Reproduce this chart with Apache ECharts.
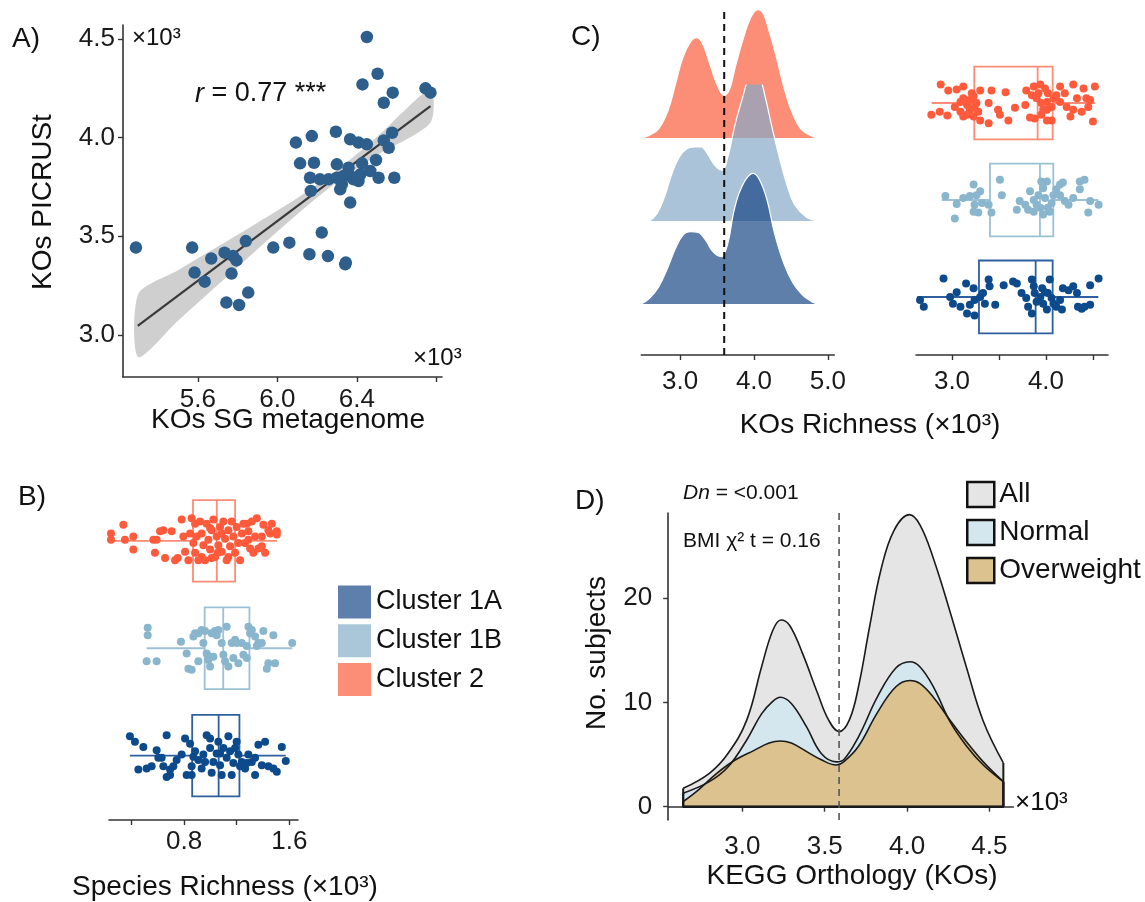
<!DOCTYPE html>
<html><head><meta charset="utf-8">
<script src="https://cdn.jsdelivr.net/npm/echarts@6/dist/echarts.min.js"></script>
<style>html,body{margin:0;padding:0;background:#fff}#chart{width:1145px;height:902px}</style>
</head><body><div id="chart"></div>
<script>
// ---------------- Panel A data ----------------
const aSG = [5.288,6.450,6.504,6.428,6.580,6.535,6.745,6.770,6.093,6.173,6.294,6.366,6.408,6.450,6.535,6.577,6.560,6.114,6.184,6.299,6.358,6.426,6.496,6.164,6.214,6.257,6.299,6.333,6.366,6.408,6.417,6.467,6.509,6.588,6.168,6.316,6.366,6.324,6.383,6.223,5.979,6.060,6.161,6.254,6.344,6.341,5.571,5.667,5.734,5.777,5.794,5.841,5.583,5.634,5.769,5.743,5.807,5.853];
const aPICRUSt = [3.443,4.510,4.324,4.270,4.228,4.177,4.250,4.228,3.975,4.008,4.030,3.992,3.975,3.966,3.986,4.025,3.949,3.870,3.873,3.865,3.848,3.870,3.887,3.797,3.789,3.789,3.797,3.806,3.806,3.780,3.814,3.831,3.797,3.797,3.730,3.738,3.671,3.764,3.789,3.519,3.443,3.468,3.409,3.400,3.367,3.358,3.443,3.387,3.417,3.400,3.378,3.476,3.316,3.270,3.311,3.164,3.152,3.215];
const aFitX = [5.297, 6.770];
const aFitY = [3.046, 4.160];
const aBandX = [5.30, 5.50, 5.70, 5.90, 6.10, 6.30, 6.50, 6.77];
const aBandLow = [2.888, 3.072, 3.254, 3.435, 3.612, 3.775, 3.909, 4.075];
const aBandHigh = [3.208, 3.328, 3.448, 3.569, 3.694, 3.835, 4.003, 4.245];
const aXTicks = [5.6, 6.0, 6.4, 6.8];
const aXLabels = [5.6, 6.0, 6.4];
const aYTicks = [3.0, 3.5, 4.0, 4.5];
const aCorrLabel = '{i|r} = 0.77 ***';

// ---------------- Cluster names ----------------
const clusterNames = ['Cluster 1A', 'Cluster 1B', 'Cluster 2'];

// ---------------- Panel B data (Species richness x10^3) ----------------
// box: [lowWhisker, Q1, median, Q3, highWhisker]
const bBox1A = [0.389, 0.862, 1.063, 1.221, 1.573];
const bBox1B = [0.516, 0.957, 1.098, 1.297, 1.622];
const bBox2  = [0.245, 0.868, 1.049, 1.188, 1.506];
// points: [richness, jitter]
const bPts1A = [[0.389,0.18],[0.427,0.13],[0.491,0.08],[0.592,0.05],[0.668,0.19],[0.453,-0.13],[0.516,-0.12],[0.554,-0.10],[0.630,-0.02],[0.643,-0.10],[0.668,-0.20],[0.694,-0.13],[0.719,-0.10],[0.744,-0.04],[0.694,-0.18],[0.808,0.16],[0.846,0.11],[0.820,-0.18],[0.858,-0.18],[0.858,-0.10],[0.871,-0.01],[0.884,0.04],[0.909,-0.04],[0.934,-0.12],[0.947,0.01],[0.972,0.19],[0.998,0.16],[0.998,0.07],[1.010,-0.16],[1.023,-0.06],[1.048,0.02],[1.061,0.13],[1.074,-0.09],[1.086,-0.18],[1.099,0.07],[1.124,-0.02],[1.137,0.18],[1.150,0.04],[1.162,-0.18],[1.175,-0.07],[1.188,0.07],[1.200,0.13],[1.213,0.01],[1.226,-0.10],[1.239,-0.06],[1.264,-0.12],[1.277,-0.07],[1.289,0.01],[1.315,-0.06],[1.340,-0.18],[1.340,-0.02],[1.365,0.10],[1.391,-0.09],[1.416,0.13],[1.441,-0.10],[1.479,-0.12],[1.505,-0.15],[1.543,0.08],[1.074,0.02],[0.960,-0.06],[0.782,0.01],[0.605,-0.02],[1.573,-0.05]];
const bPts1B = [[0.524,0.19],[0.524,0.12],[0.516,-0.12],[0.592,-0.12],[0.777,0.06],[0.820,-0.05],[0.833,-0.19],[0.858,-0.20],[0.871,0.11],[0.884,0.14],[0.909,-0.12],[0.934,0.17],[0.947,0.05],[0.960,0.16],[0.972,-0.05],[0.985,-0.11],[0.998,-0.17],[1.010,0.14],[1.023,-0.08],[1.036,0.16],[1.048,0.12],[1.061,0.17],[1.086,0.05],[1.099,-0.06],[1.112,-0.12],[1.124,0.20],[1.137,-0.17],[1.162,0.05],[1.175,-0.09],[1.188,0.08],[1.200,0.05],[1.213,-0.14],[1.239,0.05],[1.251,-0.06],[1.277,-0.09],[1.289,0.20],[1.302,0.14],[1.315,0.17],[1.340,0.11],[1.353,0.02],[1.365,0.05],[1.391,0.05],[1.403,0.16],[1.441,-0.14],[1.429,-0.19],[1.492,-0.14],[1.479,0.12],[1.277,0.02],[0.998,-0.08],[0.909,0.14],[1.622,0.05]];
const bPts2 = [[0.245,0.07],[0.245,0.01],[0.339,0.15],[0.351,0.01],[0.415,0.04],[0.415,-0.08],[0.567,0.01],[0.592,0.01],[0.579,-0.11],[0.643,0.10],[0.656,-0.16],[0.618,0.09],[0.706,0.09],[0.732,-0.18],[0.752,-0.16],[0.782,0.20],[0.795,0.04],[0.808,-0.10],[0.833,-0.18],[0.858,0.21],[0.846,0.07],[0.871,-0.02],[0.884,0.16],[0.884,-0.11],[0.896,0.04],[0.922,0.18],[0.934,0.07],[0.947,-0.04],[0.960,-0.18],[0.972,0.16],[0.985,0.01],[0.998,-0.08],[1.010,0.10],[1.023,0.20],[1.036,-0.15],[1.048,0.04],[1.061,-0.04],[1.074,0.13],[1.086,-0.10],[1.099,0.18],[1.112,0.02],[1.124,-0.18],[1.137,0.10],[1.150,-0.05],[1.162,0.18],[1.175,0.04],[1.188,-0.11],[1.200,0.13],[1.213,-0.02],[1.226,-0.18],[1.239,0.07],[1.251,0.16],[0.934,-0.15],[0.909,-0.18],[1.010,-0.16],[1.086,0.07],[1.137,-0.15],[0.998,0.12],[1.056,-0.11],[1.264,-0.02],[1.277,0.16],[1.289,0.09],[1.302,-0.07],[1.315,0.18],[1.327,-0.11],[1.340,0.04],[1.353,0.21],[1.365,-0.07],[1.391,-0.05],[1.403,0.15],[1.416,-0.11],[1.441,0.10],[1.454,0.07],[1.467,0.16],[1.505,0.09],[1.505,0.06],[1.391,0.04],[1.289,0.01]];
const bTicks = [0.4, 0.8, 1.2, 1.6];
const bLabels = [0.8, 1.6];

// ---------------- Panel C data (KOs richness x10^3) ----------------
// ridge densities: [KOs richness, scaled density]
const cRidge2 = [[2.475,0],[2.586,0.027],[2.712,0.093],[2.838,0.277],[2.939,0.543],[3.040,0.81],[3.141,0.96],[3.217,1.003],[3.293,0.96],[3.394,0.76],[3.495,0.543],[3.596,0.427],[3.672,0.493],[3.747,0.71],[3.848,0.977],[3.949,1.193],[4.051,1.283],[4.126,1.243],[4.202,1.077],[4.303,0.81],[4.404,0.51],[4.505,0.277],[4.631,0.093],[4.758,0.027],[4.859,0]];
const cRidge1B = [[2.586,0],[2.687,0.073],[2.788,0.24],[2.889,0.473],[2.990,0.64],[3.091,0.723],[3.192,0.74],[3.283,0.74],[3.369,0.673],[3.470,0.557],[3.571,0.507],[3.646,0.64],[3.747,0.973],[3.848,1.24],[3.924,1.423],[4.000,1.497],[4.076,1.44],[4.152,1.24],[4.253,0.907],[4.354,0.607],[4.455,0.34],[4.556,0.157],[4.707,0.04],[4.859,0]];
const cRidge1A = [[2.475,0],[2.586,0.057],[2.712,0.173],[2.838,0.373],[2.939,0.557],[3.040,0.69],[3.141,0.723],[3.242,0.717],[3.343,0.64],[3.444,0.523],[3.556,0.473],[3.646,0.607],[3.722,0.907],[3.798,1.107],[3.899,1.257],[3.990,1.307],[4.076,1.24],[4.177,1.04],[4.278,0.707],[4.404,0.407],[4.530,0.207],[4.657,0.09],[4.783,0.023],[4.859,0]];
const cThreshold = 3.597;
const cLeftTicks = [3, 4, 5];
const cBox1A = [2.631, 3.287, 3.890, 4.071, 4.557];
const cBox1B = [2.890, 3.404, 3.936, 4.078, 4.557];
const cBox2  = [2.784, 3.237, 3.911, 4.071, 4.521];
const cPts1A = [[2.66,-0.03],[2.70,-0.10],[2.91,0.19],[3.15,0.14],[3.05,0.05],[2.98,0.00],[3.01,-0.07],[3.09,-0.10],[3.16,-0.17],[3.24,-0.19],[3.19,-0.08],[3.24,-0.03],[3.30,0.00],[3.33,0.04],[3.35,-0.07],[3.39,0.18],[3.46,-0.08],[3.23,0.09],[3.40,0.11],[3.55,0.12],[3.65,0.16],[3.69,0.14],[3.74,0.04],[3.79,-0.01],[3.81,-0.10],[3.85,-0.17],[3.87,0.11],[3.88,0.04],[3.90,-0.05],[3.94,0.00],[3.97,-0.07],[4.01,-0.13],[4.04,0.18],[4.02,0.04],[4.06,-0.01],[4.08,-0.07],[4.11,-0.10],[4.15,-0.03],[4.18,0.09],[4.24,0.07],[4.29,0.11],[4.33,0.04],[4.34,-0.10],[4.38,-0.12],[4.41,-0.10],[4.47,-0.08],[4.47,0.12],[4.56,0.19],[4.17,-0.13],[3.85,0.18],[3.96,0.09],[3.99,0.05]];
const cPts1B = [[2.93,0.04],[3.05,-0.04],[3.03,-0.19],[3.12,0.02],[3.23,0.16],[3.19,0.04],[3.26,0.05],[3.30,0.09],[3.24,-0.05],[3.28,-0.13],[3.23,-0.12],[3.32,-0.03],[3.42,-0.13],[3.51,0.21],[3.53,0.05],[3.39,-0.05],[3.72,-0.01],[3.69,-0.10],[3.78,-0.05],[3.83,0.09],[3.87,0.00],[3.90,-0.05],[3.95,0.19],[3.97,0.12],[4.01,0.19],[3.92,0.05],[3.99,0.02],[4.02,-0.08],[4.06,-0.03],[4.08,0.05],[4.11,0.11],[4.15,0.16],[4.18,0.18],[4.15,0.05],[4.20,-0.01],[4.24,-0.05],[4.29,0.02],[4.36,0.19],[4.41,0.21],[4.36,0.11],[4.47,-0.01],[4.56,-0.05],[4.45,-0.13],[3.97,-0.15],[4.04,-0.12],[3.87,-0.12],[3.81,-0.10],[3.94,-0.08]];
const cPts2 = [[2.88,0.19],[2.96,0.13],[3.05,0.14],[3.12,0.17],[2.78,-0.12],[2.87,-0.09],[2.95,-0.13],[3.03,-0.04],[3.09,0.01],[3.12,0.05],[3.16,-0.02],[3.19,0.03],[3.23,0.07],[3.26,0.00],[3.19,-0.07],[3.16,-0.12],[3.09,-0.09],[3.12,-0.14],[3.23,-0.14],[3.28,-0.09],[3.24,-0.04],[3.21,0.10],[3.30,0.13],[3.42,0.13],[3.57,0.11],[3.39,0.00],[3.49,-0.07],[3.67,-0.05],[3.60,-0.18],[3.39,-0.21],[3.30,-0.18],[3.51,-0.12],[3.79,0.13],[3.87,0.17],[3.94,0.19],[3.99,0.15],[4.02,0.10],[3.90,0.05],[3.95,0.00],[4.01,0.01],[4.06,-0.04],[3.97,-0.07],[3.88,-0.16],[3.95,-0.12],[4.01,-0.18],[3.92,0.10],[3.85,0.08],[3.78,-0.02],[4.08,0.05],[4.15,0.01],[4.11,0.08],[4.15,0.17],[4.29,0.19],[4.40,0.15],[4.52,0.17],[4.20,0.10],[4.33,0.05],[4.43,0.05],[4.47,0.03],[4.22,-0.04],[4.29,-0.07],[4.38,-0.09],[4.26,-0.14],[4.50,-0.19],[4.45,-0.04],[4.06,-0.18],[3.83,-0.15],[4.01,-0.07]];
const cRightTicks = [3.0, 3.5, 4.0, 4.5];
const cRightLabels = [3.0, 4.0];

// ---------------- Panel D data (No. subjects vs KOs x10^3) ----------------
const dNames = ['All', 'Normal', 'Overweight'];
const dAll = [[2.640,1.76],[2.799,3.2],[2.912,5.1],[3.026,8.3],[3.116,13.4],[3.184,16.9],[3.234,17.9],[3.286,17.4],[3.365,14.7],[3.456,10.9],[3.524,8.3],[3.587,7.2],[3.649,8.3],[3.705,11.5],[3.773,17.3],[3.841,22.7],[3.921,26.5],[4.015,28.0],[4.079,27.0],[4.160,23.8],[4.261,18.7],[4.362,13.3],[4.463,8.2],[4.585,4.2]];
const dNormal = [[2.640,1.3],[2.799,2.4],[2.912,3.8],[3.026,6.4],[3.116,8.9],[3.184,10.1],[3.230,10.5],[3.297,9.9],[3.388,7.7],[3.479,5.1],[3.570,4.3],[3.615,4.5],[3.705,6.7],[3.819,10.5],[3.932,13.3],[4.018,13.9],[4.079,13.4],[4.160,11.5],[4.261,8.15],[4.362,5.8],[4.463,4.0],[4.585,2.4]];
const dOverweight = [[2.640,0.5],[2.731,1.6],[2.844,3.2],[2.958,4.5],[3.071,5.4],[3.162,6.1],[3.230,6.3],[3.297,6.1],[3.388,5.3],[3.479,4.5],[3.570,4.0],[3.615,4.3],[3.705,5.8],[3.819,9.0],[3.932,11.5],[4.018,12.1],[4.079,11.8],[4.160,10.5],[4.261,8.3],[4.362,6.2],[4.463,4.3],[4.585,2.4]];
const dThreshold = 3.587;
const dXTicks = [3.0, 3.5, 4.0, 4.5];
const dYTicks = [0, 10, 20];

// ---------------- Styles / layout ----------------
const FONT = 'Liberation Sans';
const AX = '#333';
const clusterFill = ['#5E7FAB', '#A9C7D9', '#FC8E78'];
const clusterPoint = ['#0D4A8C', '#89B5CD', '#FF5A3C'];
const clusterBox = ['#2F5F9E', '#9CC1D6', '#FF8C76'];
const ridgeFill = { '1A': 'rgba(16,64,130,0.67)', '1B': 'rgba(134,170,200,0.7)', '2': '#FC8E78' };
const dFill = ['#E5E5E5', '#D4E6EE', '#DBC28F'];

function tickFmt(d) { return v => Number(v).toFixed(d); }
function visAxis(gridIndex, min, max, ticks, labels, fmt, margin, extra) {
  return Object.assign({
    type: 'value', gridIndex, min, max,
    axisLine: { show: true, lineStyle: { color: AX, width: 1.6 } },
    axisTick: { show: true, length: 5, lineStyle: { color: AX, width: 1.4 }, customValues: ticks },
    axisLabel: { show: true, customValues: labels, formatter: fmt, fontSize: 26, fontFamily: FONT, color: '#1a1a1a', margin },
    splitLine: { show: false }
  }, extra || {});
}
function hidAxis(gridIndex, min, max) {
  return { type: 'value', gridIndex, min, max, show: false, splitLine: { show: false } };
}

function boxSeries(name, box, group, half, xi, yi, color) {
  return {
    type: 'custom', name, xAxisIndex: xi, yAxisIndex: yi, silent: true, clip: false, z: 2,
    data: [box.concat([group])],
    renderItem: (params, api) => {
      const g = api.value(5);
      const xs = [0,1,2,3,4].map(i => api.coord([api.value(i), g])[0]);
      const yc = api.coord([api.value(1), g])[1];
      const yt = api.coord([api.value(1), g + half])[1];
      const yb = api.coord([api.value(1), g - half])[1];
      const st = { stroke: color, lineWidth: 1.8, fill: null };
      return { type: 'group', children: [
        { type: 'rect', shape: { x: xs[1], y: yt, width: xs[3] - xs[1], height: yb - yt }, style: { stroke: color, lineWidth: 1.8, fill: 'rgba(0,0,0,0)' } },
        { type: 'line', shape: { x1: xs[2], y1: yt, x2: xs[2], y2: yb }, style: st },
        { type: 'line', shape: { x1: xs[0], y1: yc, x2: xs[1], y2: yc }, style: st },
        { type: 'line', shape: { x1: xs[3], y1: yc, x2: xs[4], y2: yc }, style: st }
      ]};
    }
  };
}
function jitterSeries(name, pts, group, xi, yi, color) {
  return { type: 'scatter', name, xAxisIndex: xi, yAxisIndex: yi, silent: true, z: 3,
    symbolSize: 8, itemStyle: { color, opacity: 1 },
    data: pts.map(p => [p[0], group + p[1]]) };
}
function ridgeSeries(name, data, k, fill) {
  return { type: 'line', name, xAxisIndex: k, yAxisIndex: k, data, smooth: 0.4, symbol: 'none', silent: true,
    lineStyle: { color: '#ffffff', width: 1.2 }, areaStyle: { color: fill, opacity: 1 }, z: 2 };
}
function densSeries(name, data, fill) {
  return { type: 'line', name, xAxisIndex: 7, yAxisIndex: 7, data, smooth: 0.4, symbol: 'none', silent: true,
    lineStyle: { color: '#1a1a1a', width: 1.6 }, areaStyle: { color: fill, opacity: 1 }, z: 2 };
}
function edgeSeries(data) {
  const f = data[0], l = data[data.length - 1];
  return { type: 'line', xAxisIndex: 7, yAxisIndex: 7, silent: true, symbol: 'none', z: 3,
    data: [[f[0], f[1]], [f[0], 0], [l[0], 0], [l[0], l[1]]],
    lineStyle: { color: '#1a1a1a', width: 2 } };
}

// axis ranges
const aX = [5.223, 6.828], aY = [2.787, 4.571];
const bX = [0.230, 1.666], bY = [0.4, 3.6];
const cX = [2.475, 5.087];
const crX = [2.617, 4.660], crY = [0.402, 3.8];
const dX = [2.549, 4.646], dY = [-1.275, 28.16];

function txt(text, x, y, size, o) {
  o = o || {};
  return { type: 'text', x, y, rotation: o.rot || 0, silent: true, z: 10,
    style: Object.assign({ text, fill: '#111', fontSize: size, fontFamily: FONT,
      align: o.align || 'left', verticalAlign: 'middle' }, o.style || {}) };
}

const option = {
  animation: false,
  backgroundColor: '#ffffff',
  textStyle: { fontFamily: FONT },
  grid: [
    { left: 123, top: 25, width: 319, height: 352 },      // A
    { left: 109, top: 476.5, width: 189, height: 343.5 }, // B
    { left: 641.3, top: 8, width: 193, height: 347 },     // C left axis
    { left: 641.3, top: 2, width: 193, height: 136 },     // ridge Cluster 2
    { left: 641.3, top: 85, width: 193, height: 136 },    // ridge Cluster 1B
    { left: 641.3, top: 168, width: 193, height: 136 },   // ridge Cluster 1A
    { left: 916, top: 25.4, width: 192, height: 329.6 },  // C right
    { left: 668.2, top: 513, width: 345.2, height: 307 }  // D
  ],
  xAxis: [
    visAxis(0, aX[0], aX[1], aXTicks, aXLabels, tickFmt(1), 10),
    visAxis(1, bX[0], bX[1], bTicks, bLabels, tickFmt(1), 9),
    visAxis(2, cX[0], cX[1], cLeftTicks, cLeftTicks, tickFmt(1), 14),
    hidAxis(3, cX[0], cX[1]), hidAxis(4, cX[0], cX[1]), hidAxis(5, cX[0], cX[1]),
    visAxis(6, crX[0], crX[1], cRightTicks, cRightLabels, tickFmt(1), 14),
    visAxis(7, dX[0], dX[1], dXTicks, dXTicks, tickFmt(1), 14)
  ],
  yAxis: [
    visAxis(0, aY[0], aY[1], aYTicks, aYTicks, tickFmt(1), 8),
    hidAxis(1, bY[0], bY[1]),
    hidAxis(2, 0, 1),
    hidAxis(3, 0, 1.36), hidAxis(4, 0, 1.36), hidAxis(5, 0, 1.36),
    hidAxis(6, crY[0], crY[1]),
    visAxis(7, dY[0], dY[1], dYTicks, dYTicks, tickFmt(0), 16)
  ],
  legend: [
    { orient: 'vertical', left: 338, top: 585.5, itemWidth: 33, itemHeight: 33, itemGap: 5.8, padding: 0,
      icon: 'rect', selectedMode: false,
      textStyle: { fontSize: 27, fontFamily: FONT, color: '#111', lineHeight: 33 },
      data: clusterNames.map((n, i) => ({ name: n, itemStyle: { color: clusterFill[i], borderWidth: 0 } })) },
    { orient: 'vertical', left: 966, top: 479.5, itemWidth: 27, itemHeight: 25, itemGap: 8, padding: 0,
      icon: 'rect', selectedMode: false,
      textStyle: { fontSize: 28, fontFamily: FONT, color: '#111', lineHeight: 30 },
      data: dNames.map((n, i) => ({ name: n, itemStyle: { color: dFill[i], borderColor: '#111', borderWidth: 2.5 } })) }
  ],
  series: [
    // ---- A ----
    { type: 'custom', name: 'CI', xAxisIndex: 0, yAxisIndex: 0, silent: true, clip: false, z: 1,
      data: [[aBandX[0], aBandLow[0]]],
      renderItem: (params, api) => {
        const up = aBandX.map((x, i) => api.coord([x, aBandHigh[i]]));
        const lo = aBandX.map((x, i) => api.coord([x, aBandLow[i]])).reverse();
        return { type: 'polygon', shape: { points: up.concat(lo), smooth: 0.25 }, style: { fill: 'rgba(160,160,160,0.5)' } };
      } },
    { type: 'line', name: 'fit', xAxisIndex: 0, yAxisIndex: 0, silent: true, symbol: 'none', z: 2,
      data: aFitX.map((x, i) => [x, aFitY[i]]), lineStyle: { color: '#3a3a3a', width: 2.2 } },
    { type: 'scatter', name: 'samples', xAxisIndex: 0, yAxisIndex: 0, silent: true, z: 3, symbolSize: 12.5,
      itemStyle: { color: '#2E5E8C', opacity: 1 }, data: aSG.map((x, i) => [x, aPICRUSt[i]]) },
    // ---- B ----
    boxSeries('Cluster 1A', bBox1A, 1, 0.38, 1, 1, clusterBox[0]),
    boxSeries('Cluster 1B', bBox1B, 2, 0.38, 1, 1, clusterBox[1]),
    boxSeries('Cluster 2', bBox2, 3, 0.38, 1, 1, clusterBox[2]),
    jitterSeries('Cluster 1A', bPts1A, 1, 1, 1, clusterPoint[0]),
    jitterSeries('Cluster 1B', bPts1B, 2, 1, 1, clusterPoint[1]),
    jitterSeries('Cluster 2', bPts2, 3, 1, 1, clusterPoint[2]),
    // ---- C ridges ----
    ridgeSeries('Cluster 2', cRidge2, 3, ridgeFill['2']),
    ridgeSeries('Cluster 1B', cRidge1B, 4, ridgeFill['1B']),
    ridgeSeries('Cluster 1A', cRidge1A, 5, ridgeFill['1A']),
    { type: 'line', name: 'threshold C', xAxisIndex: 2, yAxisIndex: 2, silent: true, symbol: 'none', z: 6,
      data: [[cThreshold, 0], [cThreshold, 1]], lineStyle: { color: '#111', width: 2, type: [7, 5] } },
    // ---- C right ----
    boxSeries('Cluster 1A', cBox1A, 1, 0.376, 6, 6, clusterBox[0]),
    boxSeries('Cluster 1B', cBox1B, 2, 0.376, 6, 6, clusterBox[1]),
    boxSeries('Cluster 2', cBox2, 3, 0.376, 6, 6, clusterBox[2]),
    jitterSeries('Cluster 1A', cPts1A, 1, 6, 6, clusterPoint[0]),
    jitterSeries('Cluster 1B', cPts1B, 2, 6, 6, clusterPoint[1]),
    jitterSeries('Cluster 2', cPts2, 3, 6, 6, clusterPoint[2]),
    // ---- D ----
    densSeries('All', dAll, dFill[0]),
    densSeries('Normal', dNormal, dFill[1]),
    densSeries('Overweight', dOverweight, dFill[2]),
    edgeSeries(dAll), edgeSeries(dNormal), edgeSeries(dOverweight),
    { type: 'line', name: 'threshold D', xAxisIndex: 7, yAxisIndex: 7, silent: true, symbol: 'none', z: 6, clip: false,
      data: [[dThreshold, dY[0]], [dThreshold, dY[1]]], lineStyle: { color: '#555', width: 1.6, type: [7, 5] } }
  ],
  graphic: [
    txt('A)', 12, 39, 28),
    txt('×10³', 132, 38, 24),
    txt(aCorrLabel, 195, 94, 27, { style: { rich: { i: { fontStyle: 'italic', fontSize: 27, fontFamily: FONT, fill: '#111' } } } }),
    txt('×10³', 413, 358, 24),
    txt('KOs PICRUSt', 43, 202, 28, { align: 'center', rot: Math.PI / 2 }),
    txt('KOs SG metagenome', 288, 420, 28, { align: 'center' }),
    txt('B)', 18, 497, 28),
    txt('Species Richness (×10³)', 225, 887, 28, { align: 'center' }),
    txt('C)', 571, 37, 28),
    txt('KOs Richness (×10³)', 870, 425, 28, { align: 'center' }),
    txt('D)', 575, 501, 28),
    txt('{i|Dn} = <0.001', 683, 493, 21, { style: { rich: { i: { fontStyle: 'italic', fontSize: 21, fontFamily: FONT, fill: '#111' } } } }),
    txt('BMI χ² t = 0.16', 683, 541, 21),
    txt('×10³', 1015, 803, 26),
    txt('No. subjects', 597, 653, 28, { align: 'center', rot: Math.PI / 2 }),
    txt('KEGG Orthology (KOs)', 852, 876, 28, { align: 'center' })
  ]
};

const chart = echarts.init(document.getElementById('chart'), null, { renderer: 'canvas' });
chart.setOption(option);
</script></body></html>
